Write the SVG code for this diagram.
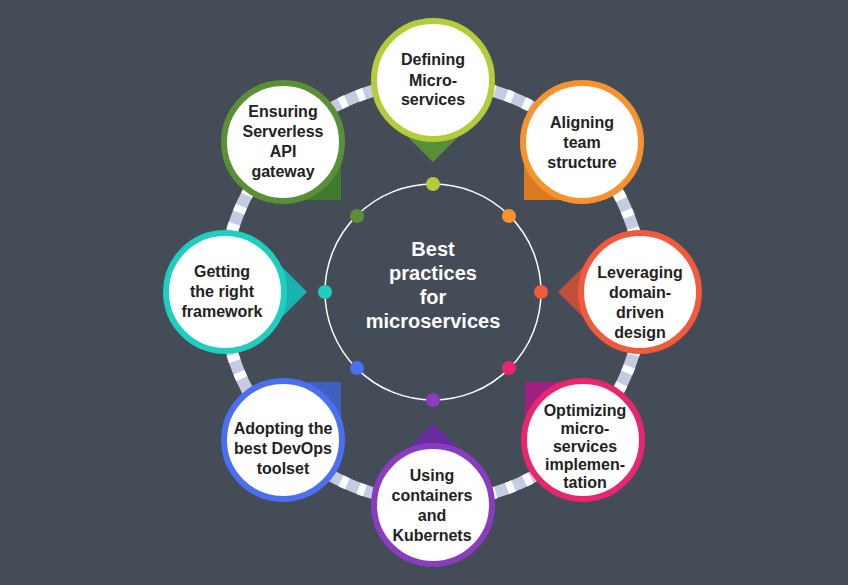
<svg xmlns="http://www.w3.org/2000/svg" width="848" height="585" viewBox="0 0 848 585">
<style>
.n{fill:#fff;stroke-width:6}
.t{font-family:"Liberation Sans",Arial,sans-serif;font-weight:bold;font-size:16px;fill:#222;text-anchor:middle}
.c{font-family:"Liberation Sans",Arial,sans-serif;font-weight:bold;font-size:20px;fill:#fff;text-anchor:middle}
</style>
<defs><polygon id="p" points="0,82 -55,27 55,27"/></defs>
<rect width="848" height="585" fill="#444c58"/>
<g id="connectors">
<circle cx="433" cy="292" r="210" fill="none" stroke="#c5cbe0" stroke-width="12"/>
<circle cx="433" cy="292" r="210" fill="none" stroke="#ffffff" stroke-width="12" stroke-dasharray="7 12"/>
<circle cx="433" cy="292" r="108" fill="none" stroke="#fff" stroke-width="1.5"/>
<circle cx="433" cy="184" r="7" fill="#b5cc3a"/>
<circle cx="509" cy="216" r="7" fill="#f7932f"/>
<circle cx="541" cy="292" r="7" fill="#f15a3b"/>
<circle cx="509" cy="368" r="7" fill="#e8266e"/>
<circle cx="433" cy="400" r="7" fill="#8a3cc0"/>
<circle cx="357" cy="368" r="7" fill="#4a6ff0"/>
<circle cx="325" cy="292" r="7" fill="#1ecfc0"/>
<circle cx="357" cy="216" r="7" fill="#5b8f35"/>
</g>
<g id="center"><text class="c" x="433" y="256">Best</text><text class="c" x="433" y="280">practices</text><text class="c" x="433" y="304">for</text><text class="c" x="433" y="328">microservices</text></g>
<g id="n1"><use href="#p" fill="#5a8f3a" transform="translate(433 80)"/><circle class="n" cx="433" cy="80" r="59" stroke="#b5cc3a"/><text class="t" x="433" y="65">Defining</text><text class="t" x="433" y="86">Micro-</text><text class="t" x="433" y="105">services</text></g>
<g id="n2"><use href="#p" fill="#d97a20" transform="translate(582 142) rotate(45)"/><circle class="n" cx="582" cy="142" r="59" stroke="#f7932f"/><text class="t" x="582" y="128">Aligning</text><text class="t" x="582" y="148">team</text><text class="t" x="582" y="168">structure</text></g>
<g id="n3"><use href="#p" fill="#c0503a" transform="translate(640 292) rotate(90)"/><circle class="n" cx="640" cy="292" r="59" stroke="#f15a3b"/><text class="t" x="640" y="278">Leveraging</text><text class="t" x="640" y="298">domain-</text><text class="t" x="640" y="318">driven</text><text class="t" x="640" y="338">design</text></g>
<g id="n4"><use href="#p" fill="#a02080" transform="translate(583 440) rotate(135)"/><circle class="n" cx="583" cy="440" r="59" stroke="#e8266e"/><text class="t" x="585" y="416">Optimizing</text><text class="t" x="585" y="434">micro-</text><text class="t" x="585" y="452">services</text><text class="t" x="585" y="470">implemen-</text><text class="t" x="585" y="488">tation</text></g>
<g id="n5"><use href="#p" fill="#6a2aa0" transform="translate(433 505) rotate(180)"/><circle class="n" cx="433" cy="505" r="59" stroke="#8a3cc0"/><text class="t" x="432" y="481">Using</text><text class="t" x="432" y="501">containers</text><text class="t" x="432" y="521">and</text><text class="t" x="432" y="541">Kubernets</text></g>
<g id="n6"><use href="#p" fill="#4060c0" transform="translate(283 440) rotate(225)"/><circle class="n" cx="283" cy="440" r="59" stroke="#4a6ff0"/><text class="t" x="283" y="434">Adopting the</text><text class="t" x="283" y="454">best DevOps</text><text class="t" x="283" y="474">toolset</text></g>
<g id="n7"><use href="#p" fill="#18b5b0" transform="translate(225 292) rotate(270)"/><circle class="n" cx="225" cy="292" r="59" stroke="#1ecfc0"/><text class="t" x="222" y="277">Getting</text><text class="t" x="222" y="297">the right</text><text class="t" x="222" y="317">framework</text></g>
<g id="n8"><use href="#p" fill="#3f7a30" transform="translate(283 142) rotate(315)"/><circle class="n" cx="283" cy="142" r="59" stroke="#5b8f35"/><text class="t" x="283" y="117">Ensuring</text><text class="t" x="283" y="137">Serverless</text><text class="t" x="283" y="157">API</text><text class="t" x="283" y="177">gateway</text></g>
</svg>
